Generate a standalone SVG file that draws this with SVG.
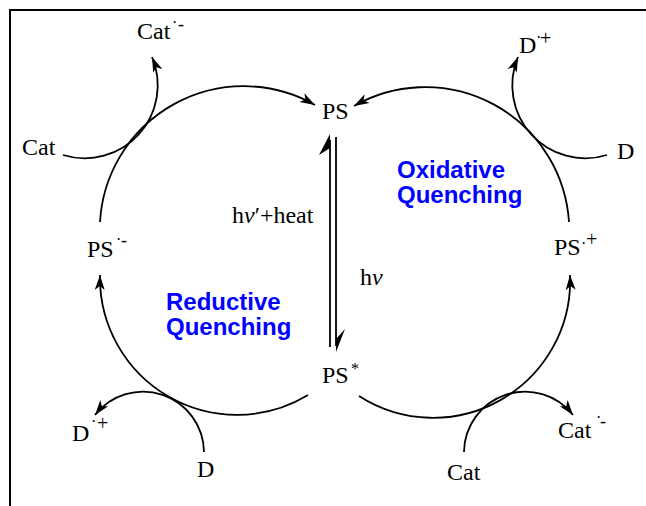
<svg xmlns="http://www.w3.org/2000/svg" width="646" height="506" viewBox="0 0 646 506">
<defs>
<style>
.t{font-family:"Liberation Serif","Times New Roman",serif;font-size:24px;fill:#000}
.s{font-size:16px}
.m{font-size:18px}
.p{font-size:20px}
.q{font-family:"Liberation Sans",Arial,sans-serif;font-size:24px;font-weight:bold;fill:#0000FF}
.ln{fill:none;stroke:#000;stroke-width:1.8}
.fr{fill:none;stroke:#000;stroke-width:2}
</style>
<marker id="ah" markerUnits="userSpaceOnUse" orient="auto" refX="0" refY="0" markerWidth="20" markerHeight="20" overflow="visible">
<path d="M0,0 L-15,-5 L-11,0 L-15,5 Z" fill="#000"/>
</marker>
</defs>
<path class="fr" d="M10,506 L10,10 L646,10"/>
<g id="connectors">
<path class="ln" d="M100,222 A144,144 0 0 1 315,105" marker-end="url(#ah)"/>
<path class="ln" d="M569,222 A144,144 0 0 0 354,106" marker-end="url(#ah)"/>
<path class="ln" d="M308,395 A137,137 0 0 1 100,275" marker-end="url(#ah)"/>
<path class="ln" d="M359,396 A137,137 0 0 0 570,275" marker-end="url(#ah)"/>
<path class="ln" d="M63,155 A73,73 0 0 0 152,57" marker-end="url(#ah)"/>
<path class="ln" d="M607,155 A73,73 0 0 1 518,57" marker-end="url(#ah)"/>
<path class="ln" d="M204,452 A61,61 0 0 0 95,415" marker-end="url(#ah)"/>
<path class="ln" d="M464,452 A61,61 0 0 1 573,415" marker-end="url(#ah)"/>
<line class="ln" x1="330" y1="140" x2="330" y2="347"/>
<path d="M330,134 L319,155 L330,148 Z" fill="#000"/>
<line class="ln" x1="336" y1="137" x2="336" y2="346"/>
<path d="M336,352 L345,329 L336,339 Z" fill="#000"/>
</g>
<g id="cat-top"><text class="t"><tspan x="137" y="39">Cat</tspan><tspan class="s" x="172" y="28">·</tspan><tspan class="m" x="178" y="30">-</tspan></text></g>
<g id="d-top"><text class="t"><tspan x="519" y="53">D</tspan><tspan class="s" x="536" y="43">·</tspan><tspan class="p" x="540" y="45">+</tspan></text></g>
<g id="cat-left"><text class="t" x="22" y="155">Cat</text></g>
<g id="ps"><text class="t" x="322" y="119">PS</text></g>
<g id="d-right"><text class="t" x="617" y="159">D</text></g>
<g id="ps-minus"><text class="t"><tspan x="87" y="257">PS</tspan><tspan class="s" x="116" y="245">·</tspan><tspan class="m" x="121" y="246">-</tspan></text></g>
<g id="ps-plus"><text class="t"><tspan x="554" y="255">PS</tspan><tspan class="s" x="581" y="249">·</tspan><tspan class="p" x="586" y="246">+</tspan></text></g>
<g id="ps-star"><text class="t"><tspan x="322" y="383">PS</tspan><tspan class="s" x="351" y="374">*</tspan></text></g>
<g id="d-bl"><text class="t"><tspan x="72" y="441">D</tspan><tspan class="s" x="91" y="427">·</tspan><tspan class="p" x="97" y="430">+</tspan></text></g>
<g id="d-bottom"><text class="t" x="197" y="477">D</text></g>
<g id="cat-br"><text class="t"><tspan x="558" y="438">Cat</tspan><tspan class="s" x="596" y="423">·</tspan><tspan class="m" x="600" y="427">-</tspan></text></g>
<g id="cat-bottom"><text class="t" x="447" y="480">Cat</text></g>
<g id="labels">
<text class="t" x="232" y="223">h<tspan font-style="italic">ν</tspan>′+heat</text>
<text class="t" x="360" y="285">h<tspan font-style="italic">ν</tspan></text>
<text class="q" x="397" y="178">Oxidative</text>
<text class="q" x="397" y="203">Quenching</text>
<text class="q" x="166" y="310">Reductive</text>
<text class="q" x="166" y="335">Quenching</text>
</g>
</svg>
